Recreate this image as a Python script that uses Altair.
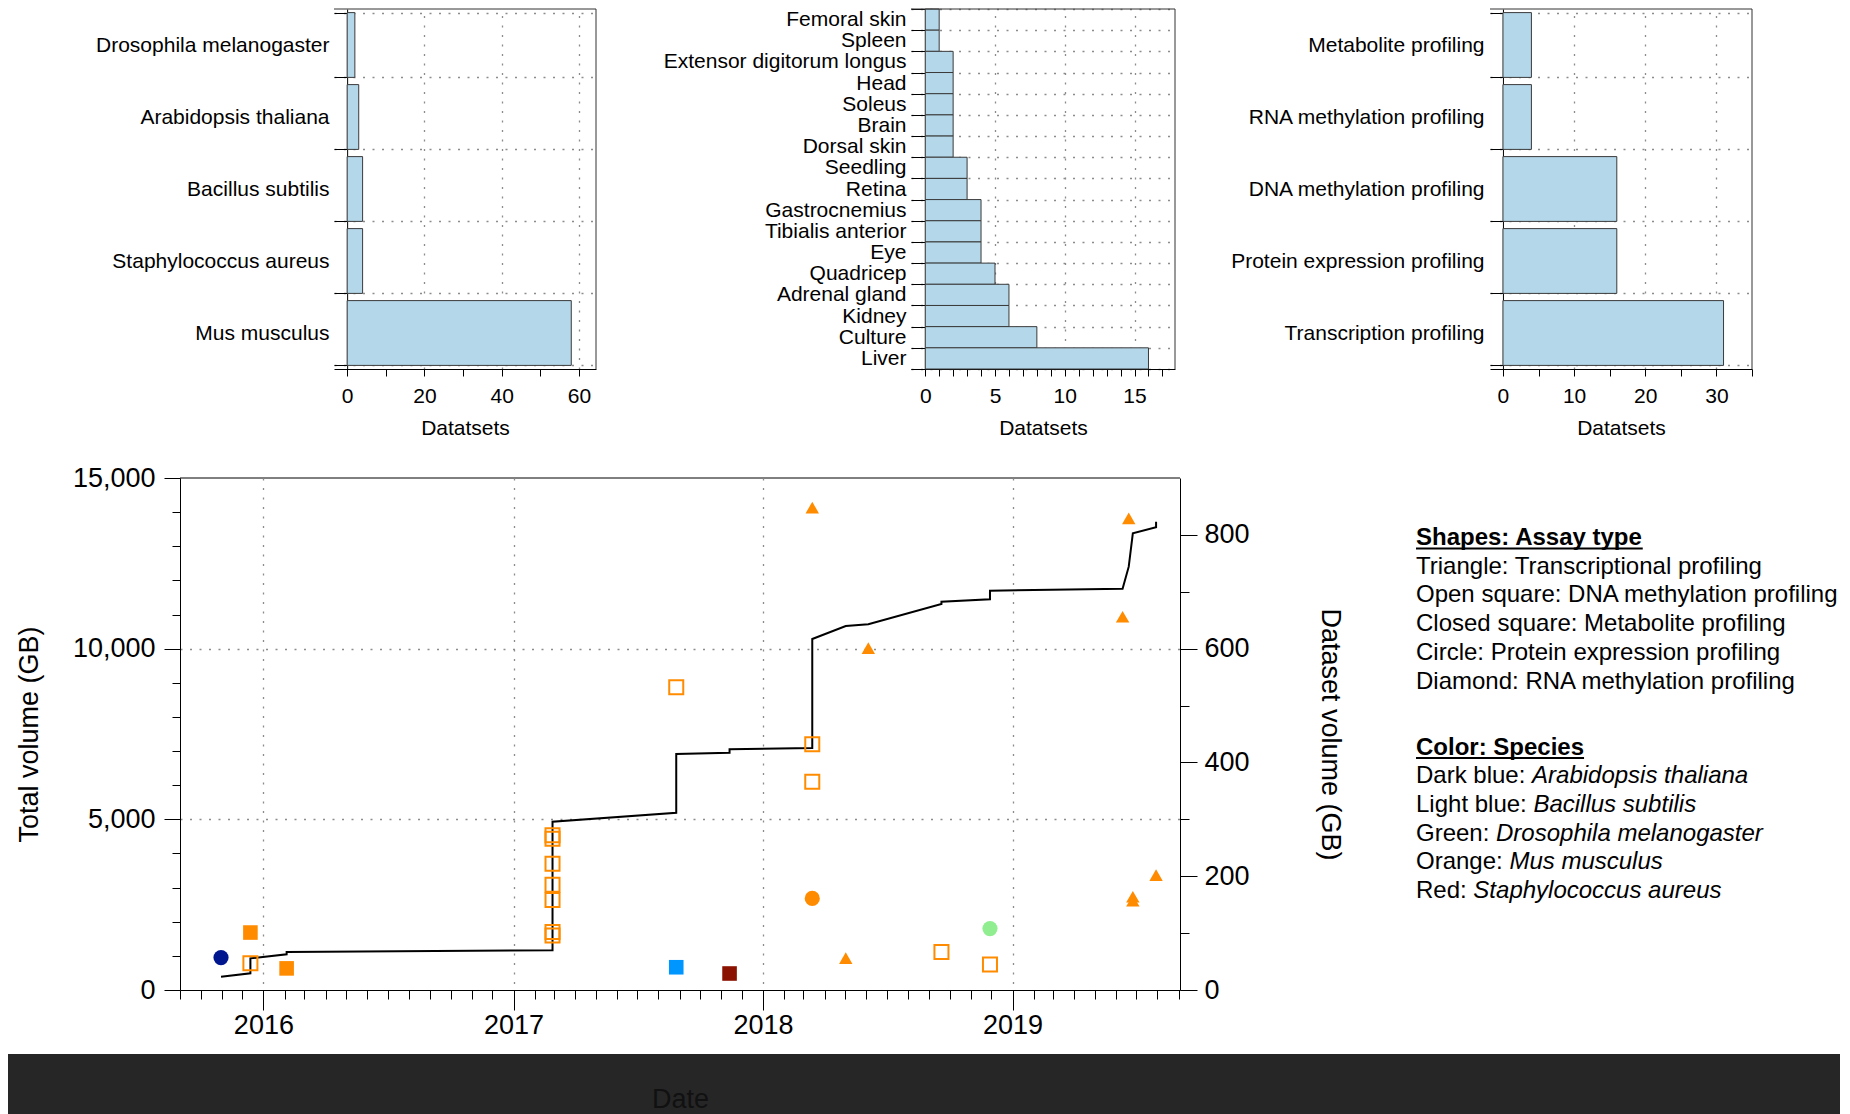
import altair as alt
import pandas as pd

FONT = "Liberation Sans"

# ---------------- data ----------------
species_names = ["Drosophila melanogaster", "Arabidopsis thaliana", "Bacillus subtilis",
                 "Staphylococcus aureus", "Mus musculus"]
species_counts = [2, 3, 4, 4, 58]

tissue_names = ["Femoral skin", "Spleen", "Extensor digitorum longus", "Head", "Soleus", "Brain",
                "Dorsal skin", "Seedling", "Retina", "Gastrocnemius", "Tibialis anterior", "Eye",
                "Quadricep", "Adrenal gland", "Kidney", "Culture", "Liver"]
tissue_counts = [1, 1, 2, 2, 2, 2, 2, 3, 3, 4, 4, 4, 5, 6, 6, 8, 16]

assay_names = ["Metabolite profiling", "RNA methylation profiling", "DNA methylation profiling",
               "Protein expression profiling", "Transcription profiling"]
assay_counts = [4, 4, 16, 16, 31]

# cumulative total volume (left axis)
total_dates = ["2015-10-31", "2015-12-13", "2015-12-13", "2016-02-04", "2016-02-04",
               "2017-02-27", "2017-02-27", "2017-08-27", "2017-08-27", "2017-11-13",
               "2017-11-13", "2018-03-14", "2018-03-14", "2018-05-02", "2018-06-04",
               "2018-09-19", "2018-09-19", "2018-11-29", "2018-11-29", "2019-06-11",
               "2019-06-20", "2019-06-26", "2019-07-30", "2019-07-30"]
total_volume = [390, 489, 928, 1046, 1113, 1163, 4931, 5194, 6914, 6952, 7052, 7090, 10283,
                10664, 10714, 11309, 11376, 11446, 11698, 11757, 12402, 13380, 13556, 13720]

# individual datasets (right axis)
point_dates = ["2015-10-31", "2015-12-13", "2015-12-13", "2016-02-04",
               "2017-02-27", "2017-02-27", "2017-02-27", "2017-02-27", "2017-02-27",
               "2017-02-27", "2017-02-27", "2017-08-27", "2017-08-27", "2017-11-13",
               "2018-03-14", "2018-03-14", "2018-03-14", "2018-03-14", "2018-05-02",
               "2018-06-04", "2018-09-19", "2018-11-29", "2018-11-29", "2019-06-11",
               "2019-06-20", "2019-06-26", "2019-06-26", "2019-07-30"]
point_volume = [57, 101, 47, 38, 272, 266, 222, 185, 158, 102, 96, 532, 40, 29,
                848, 432, 366, 161, 56, 601, 67, 108, 45, 656, 829, 164, 157, 202]
point_assay = ["Protein", "Metabolite", "DNA", "Metabolite",
               "DNA", "DNA", "DNA", "DNA", "DNA", "DNA", "DNA", "DNA", "Metabolite", "Metabolite",
               "Transcription", "DNA", "DNA", "Protein", "Transcription",
               "Transcription", "DNA", "Protein", "DNA", "Transcription",
               "Transcription", "Transcription", "Transcription", "Transcription"]
point_species = ["Arabidopsis", "Mus", "Mus", "Mus",
                 "Mus", "Mus", "Mus", "Mus", "Mus", "Mus", "Mus", "Mus", "Bacillus", "Staphylococcus",
                 "Mus", "Mus", "Mus", "Mus", "Mus",
                 "Mus", "Mus", "Drosophila", "Mus", "Mus",
                 "Mus", "Mus", "Mus", "Mus"]

species_key = ["Arabidopsis", "Bacillus", "Drosophila", "Mus", "Staphylococcus"]
species_colors = ["#00168f", "#0096ff", "#90ee90", "#ff8c00", "#8b1200"]
assay_key = ["Transcription", "DNA", "Metabolite", "Protein", "RNA"]
assay_shapes = ["triangle-up", "square", "square", "circle", "diamond"]
assay_sizes = [180, 246, 289, 280, 220]

legend_shape_lines = ["Triangle: Transcriptional profiling", "Open square: DNA methylation profiling",
                      "Closed square: Metabolite profiling", "Circle: Protein expression profiling",
                      "Diamond: RNA methylation profiling"]
legend_color_prefix = ["Dark blue: ", "Light blue: ", "Green: ", "Orange: ", "Red: "]
legend_color_species = ["Arabidopsis thaliana", "Bacillus subtilis", "Drosophila melanogaster",
                        "Mus musculus", "Staphylococcus aureus"]
legend_headings = ["Shapes: Assay type", "Color: Species"]

# ---------------- styles ----------------
BAR_FILL = "#b4d8ea"
BAR_STROKE = "#3a3a3a"
GRID_COLOR = "#8c8c8c"
GRID_DASH = [2, 7.5]
ONE = pd.DataFrame({"a": [0]})


def cond(test, a, b):
    return {"condition": {"test": test, "value": a}, "value": b}


def bar_panel(names, counts, domain, width, label_every, minor_step, p_inner, p_outer, label_pad):
    height = 360
    df = pd.DataFrame({"name": names, "count": counts})
    off = width * (-domain[0]) / (domain[1] - domain[0])
    ticks = list(range(0, int(domain[1]) + 1, minor_step))
    xaxis = alt.Axis(values=ticks, title="Datatsets",
                     labelExpr=f"datum.value % {label_every} == 0 ? datum.label : ''",
                     grid=True, gridColor=GRID_COLOR, gridDash=GRID_DASH, gridWidth=1.3,
                     gridOpacity=cond(f"datum.value % {label_every} == 0 && datum.value > 0", 1, 0),
                     tickSize=7, labelPadding=9, titlePadding=11, labelFlush=False,
                     labelOverlap=False, labelFontSize=21, titleFontSize=21)
    yaxis = alt.Axis(title=None, tickBand="extent", offset=-off, tickSize=off,
                     labelPadding=label_pad, labelFontSize=21, labelLimit=600,
                     grid=True, gridColor=GRID_COLOR, gridDash=GRID_DASH, gridWidth=1.3)
    bars = alt.Chart(df).mark_bar(fill=BAR_FILL, stroke=BAR_STROKE, strokeWidth=1).encode(
        x=alt.X("count:Q", scale=alt.Scale(domain=domain, nice=False, zero=False), axis=xaxis),
        y=alt.Y("name:N", sort=names,
                scale=alt.Scale(paddingInner=p_inner, paddingOuter=p_outer), axis=yaxis),
    )
    top = alt.Chart(ONE).mark_rule(color="#333", strokeWidth=1).encode(
        x=alt.value(0), x2=alt.value(width), y=alt.value(0))
    right = alt.Chart(ONE).mark_rule(color="#333", strokeWidth=1).encode(
        x=alt.value(width), y=alt.value(0), y2=alt.value(height))
    return alt.layer(bars, top, right).properties(width=width, height=height)


p1 = bar_panel(species_names, species_counts, [-3.4, 64.4], 262, 20, 10, 0.1, 0.05, 5)
p2 = bar_panel(tissue_names, tissue_counts, [-1.02, 17.9], 264, 5, 1, 0.0, 0.0, 5)
p3 = bar_panel(assay_names, assay_counts, [-1.82, 35], 262, 10, 5, 0.1, 0.05, 6)

spacer = alt.Chart(ONE).mark_point(opacity=0).encode(
    x=alt.value(0), y=alt.value(0)).properties(width=154, height=360)

top_row = alt.hconcat(spacer, alt.hconcat(p1, p2, p3, spacing=315, bounds="flush"),
                      spacing=0, bounds="flush")

# ---------------- bottom panel ----------------
W, H = 1000, 512
month_ticks = []
for yr in range(2015, 2020):
    for mo in range(1, 13):
        if (yr == 2015 and mo < 9) or (yr == 2019 and mo > 9):
            continue
        month_ticks.append(alt.DateTime(year=yr, month=mo, date=1, utc=True))

x_scale = alt.Scale(type="utc", domain=[alt.DateTime(year=2015, month=9, date=1, utc=True),
                                        alt.DateTime(year=2019, month=9, date=3, utc=True)])
x_axis = alt.Axis(values=month_ticks, title="Date",
                  labelExpr="utcmonth(datum.value) == 0 ? utcFormat(datum.value, '%Y') : ''",
                  tickSize=cond("utcmonth(datum.value) == 0", 20, 9),
                  grid=True, gridColor=GRID_COLOR, gridDash=GRID_DASH, gridWidth=1.3,
                  gridOpacity=cond("utcmonth(datum.value) == 0", 1, 0),
                  labelPadding=2, titlePadding=48, labelFontSize=27, titleFontSize=27,
                  titleColor="#111111", labelFlush=False, labelOverlap=False, zindex=1)
left_axis = alt.Axis(orient="left", values=list(range(0, 15001, 1000)),
                     labelExpr="datum.value % 5000 == 0 ? format(datum.value, ',') : ''",
                     tickSize=cond("datum.value % 5000 == 0", 16, 8),
                     grid=True, gridColor=GRID_COLOR, gridDash=GRID_DASH, gridWidth=1.3,
                     gridOpacity=cond("datum.value % 5000 == 0 && datum.value > 0 && datum.value < 15000", 1, 0),
                     title="Total volume (GB)", titlePadding=29, labelPadding=9,
                     labelFontSize=27, titleFontSize=27, labelOverlap=False, labelFlush=False)
right_axis = alt.Axis(orient="right", values=list(range(0, 801, 100)),
                      labelExpr="datum.value % 200 == 0 ? datum.label : ''",
                      tickSize=cond("datum.value % 200 == 0", 17, 9), grid=False,
                      title="Dataset volume (GB)", titlePadding=66, labelPadding=7,
                      labelFontSize=27, titleFontSize=27, labelOverlap=False, labelFlush=False)

line_df = pd.DataFrame({"date": total_dates, "total": total_volume,
                        "idx": list(range(len(total_dates)))})
pts_df = pd.DataFrame({"date": point_dates, "volume": point_volume,
                       "assay": point_assay, "species": point_species})
filled_df = pts_df[pts_df["assay"] != "DNA"]
open_df = pts_df[pts_df["assay"] == "DNA"]

x_enc = alt.X("date:T", scale=x_scale, axis=x_axis)
y_pts = alt.Y("volume:Q", scale=alt.Scale(domain=[0, 900], nice=False, zero=False), axis=right_axis)
color_enc = alt.Color("species:N", scale=alt.Scale(domain=species_key, range=species_colors), legend=None)
shape_enc = alt.Shape("assay:N", scale=alt.Scale(domain=assay_key, range=assay_shapes), legend=None)
size_enc = alt.Size("assay:N", scale=alt.Scale(domain=assay_key, range=assay_sizes), legend=None)

line = alt.Chart(line_df).mark_line(color="black", strokeWidth=2).encode(
    x=x_enc,
    y=alt.Y("total:Q", scale=alt.Scale(domain=[0, 15000], nice=False, zero=False), axis=left_axis),
    order="idx:Q",
)
pts_filled = alt.Chart(filled_df).mark_point(filled=True, opacity=1).encode(
    x=x_enc, y=y_pts, color=color_enc, shape=shape_enc, size=size_enc)
pts_open = alt.Chart(open_df).mark_point(filled=False, opacity=1, strokeWidth=2).encode(
    x=x_enc, y=y_pts, color=color_enc, shape=shape_enc, size=size_enc)
points = alt.layer(pts_filled, pts_open)

band = alt.Chart(ONE).mark_rect(color="#262626").encode(
    x=alt.value(-172), x2=alt.value(1660), y=alt.value(576), y2=alt.value(636))
frame_top = alt.Chart(ONE).mark_rule(color="black", strokeWidth=1).encode(
    x=alt.value(0), x2=alt.value(W), y=alt.value(0))

bottom = alt.layer(band, line, points, frame_top).resolve_scale(y="independent").properties(
    width=W, height=H)

# ---------------- text legend ----------------
REG = {' ': 278, ':': 278, 'A': 667, 'B': 667, 'C': 722, 'D': 722, 'E': 667, 'G': 778, 'L': 556,
       'O': 778, 'R': 722, 'S': 667, 'T': 611, 'a': 556, 'b': 556, 'c': 500, 'd': 556, 'e': 556,
       'g': 556, 'h': 556, 'i': 222, 'k': 500, 'l': 222, 'n': 556, 'o': 556, 'r': 333,
       't': 278, 'u': 556}
BOLD = {' ': 278, ':': 333, 'A': 722, 'C': 722, 'S': 667, 'a': 556, 'c': 556, 'e': 556, 'h': 611,
        'i': 278, 'l': 278, 'o': 611, 'p': 611, 'r': 389, 's': 556, 't': 333, 'y': 556}
LFS = 24


def tw(s, table):
    return sum(table.get(ch, 556) for ch in s) * LFS / 1000.0


BASE_Y, STEP = 67, 28.7
head_rows = [0, 7.3]
shape_rows = [1, 2, 3, 4, 5]
color_rows = [8.3, 9.3, 10.3, 11.3, 12.3]

normal_df = pd.DataFrame({
    "text": legend_shape_lines + legend_color_prefix,
    "x": [0] * 10,
    "y": [BASE_Y + STEP * r for r in shape_rows + color_rows],
})
italic_df = pd.DataFrame({
    "text": legend_color_species,
    "x": [tw(p, REG) for p in legend_color_prefix],
    "y": [BASE_Y + STEP * r for r in color_rows],
})
bold_df = pd.DataFrame({
    "text": legend_headings,
    "x": [0, 0],
    "y": [BASE_Y + STEP * r for r in head_rows],
})
under_df = pd.DataFrame({
    "x": [0, 0],
    "x2": [tw(h, BOLD) for h in legend_headings],
    "y": [BASE_Y + STEP * r + 3.5 for r in head_rows],
})

tx = alt.X("x:Q", scale=None, axis=None)
ty = alt.Y("y:Q", scale=None, axis=None)
leg_normal = alt.Chart(normal_df).mark_text(align="left", baseline="alphabetic", fontSize=LFS,
                                            color="black").encode(x=tx, y=ty, text="text:N")
leg_italic = alt.Chart(italic_df).mark_text(align="left", baseline="alphabetic", fontSize=LFS,
                                            fontStyle="italic", color="black").encode(
    x=tx, y=ty, text="text:N")
leg_bold = alt.Chart(bold_df).mark_text(align="left", baseline="alphabetic", fontSize=LFS,
                                        fontWeight="bold", color="black").encode(
    x=tx, y=ty, text="text:N")
leg_under = alt.Chart(under_df).mark_rule(color="black", strokeWidth=2).encode(
    x=tx, x2="x2:Q", y=ty)
legend = alt.layer(leg_normal, leg_italic, leg_bold, leg_under).properties(width=420, height=H)

bottom_row = alt.hconcat(bottom, legend, spacing=236, bounds="flush")

chart = alt.vconcat(top_row, bottom_row, spacing=469, bounds="flush").properties(
    padding={"left": 0, "top": -10, "right": 0, "bottom": 0}
).configure(font=FONT).configure_view(stroke=None).configure_axis(
    domainColor="black", tickColor="black", labelColor="black", titleColor="black",
    titleFontWeight="normal", domainWidth=1, tickWidth=1, labelFont=FONT, titleFont=FONT
).configure_text(font=FONT)

chart.save("out.html", embed_options={"renderer": "svg", "actions": False})
